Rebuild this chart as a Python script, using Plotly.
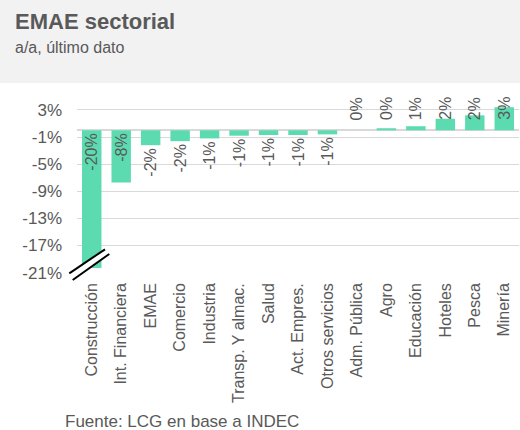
import plotly.graph_objects as go

W, H = 520, 430
M = dict(l=77, r=1, t=93, b=157)

SECTORS = [
    'Construcción', 'Int. Financiera', 'EMAE', 'Comercio', 'Industria',
    'Transp. Y almac.', 'Salud', 'Act. Empres.', 'Otros servicios',
    'Adm. Pública', 'Agro', 'Educación', 'Hoteles', 'Pesca', 'Minería'
]
VAR_YOY = [-20.3, -7.7, -2.2, -1.6, -1.2, -0.8, -0.7, -0.7, -0.6,
           0.0, 0.3, 0.6, 1.7, 2.2, 3.4]
Y_TICKS = [-21, -17, -13, -9, -5, -1, 3]

BAR_COLOR = '#5cdbb0'
TEXT_COLOR = '#595959'
GRID_COLOR = '#d9d9d9'
FONT = 'Liberation Sans, Arial, sans-serif'

PW = W - M['l'] - M['r']
PH = H - M['t'] - M['b']


def px_x(x):
    return (x - M['l']) / PW


def px_y(y):
    return 1 - (y - M['t']) / PH


labels = [f'{v:.0f}%' for v in VAR_YOY]
# negatives: big bars inside near the base, the rest just below the bar
positions = []
for v in VAR_YOY:
    if v >= 0:
        positions.append('none')
    elif v < -5:
        positions.append('inside')
    else:
        positions.append('outside')

fig = go.Figure(go.Bar(
    x=SECTORS,
    y=VAR_YOY,
    marker_color=BAR_COLOR,
    marker_line_width=0,
    text=labels,
    textposition=positions,
    textangle=-90,
    insidetextanchor='start',
    constraintext='none',
    textfont=dict(size=16, color=TEXT_COLOR, family=FONT),
    cliponaxis=False,
    hoverinfo='skip',
))

# positive labels sit all at the same height, on top of the plot
for s, v, t in zip(SECTORS, VAR_YOY, labels):
    if v >= 0:
        fig.add_annotation(
            x=s, y=px_y(95), xref='x', yref='paper',
            text=t, textangle=-90, showarrow=False,
            xanchor='center', yanchor='top',
            font=dict(size=16, color=TEXT_COLOR, family=FONT),
        )

# header band
fig.add_shape(type='rect', xref='paper', yref='paper',
              x0=px_x(0), x1=px_x(W), y0=px_y(83), y1=px_y(0),
              fillcolor='#f2f2f2', line_width=0, layer='below')

fig.add_annotation(x=px_x(13), y=px_y(21), xref='paper', yref='paper',
                   text='<b>EMAE sectorial</b>', showarrow=False,
                   xanchor='left', yanchor='middle',
                   font=dict(size=22, color=TEXT_COLOR, family=FONT))
fig.add_annotation(x=px_x(13), y=px_y(47), xref='paper', yref='paper',
                   text='a/a, último dato', showarrow=False,
                   xanchor='left', yanchor='middle',
                   font=dict(size=16, color=TEXT_COLOR, family=FONT))
fig.add_annotation(x=px_x(63), y=px_y(421), xref='paper', yref='paper',
                   text='Fuente: LCG en base a INDEC', showarrow=False,
                   xanchor='left', yanchor='middle',
                   font=dict(size=17, color=TEXT_COLOR, family=FONT))

# axis break marks on the truncated bar
brk = [(69.3, 273.3), (105.0, 249.3), (109.3, 254.0), (72.7, 280.0)]
path = 'M ' + ' L '.join(f'{px_x(a)},{px_y(b)}' for a, b in brk) + ' Z'
fig.add_shape(type='path', xref='paper', yref='paper', path=path,
              fillcolor='white', line_width=0)
for (a0, b0), (a1, b1) in [(brk[0], brk[1]), (brk[3], brk[2])]:
    fig.add_shape(type='line', xref='paper', yref='paper',
                  x0=px_x(a0), y0=px_y(b0), x1=px_x(a1), y1=px_y(b1),
                  line=dict(color='black', width=2))

fig.update_layout(
    width=W, height=H,
    margin=dict(M, autoexpand=False),
    paper_bgcolor='white',
    plot_bgcolor='white',
    bargap=0.34,
    showlegend=False,
    font=dict(family=FONT, color=TEXT_COLOR),
)
fig.update_xaxes(
    tickangle=-90,
    tickfont=dict(size=16, color=TEXT_COLOR),
    ticklabelstandoff=6,
    showgrid=False,
    showline=False,
    automargin=False,
)
fig.update_yaxes(
    range=[-21.05, 5.5],
    tickvals=Y_TICKS,
    ticktext=[f'{v}%' for v in Y_TICKS],
    tickfont=dict(size=17, color=TEXT_COLOR),
    ticklabelstandoff=14,
    showgrid=True,
    gridcolor=GRID_COLOR,
    gridwidth=1,
    zeroline=True,
    zerolinecolor=GRID_COLOR,
    zerolinewidth=1.5,
    automargin=False,
)

fig.write_html('out.html', config={'displayModeBar': False},
               post_script="document.body.style.margin='0';")
